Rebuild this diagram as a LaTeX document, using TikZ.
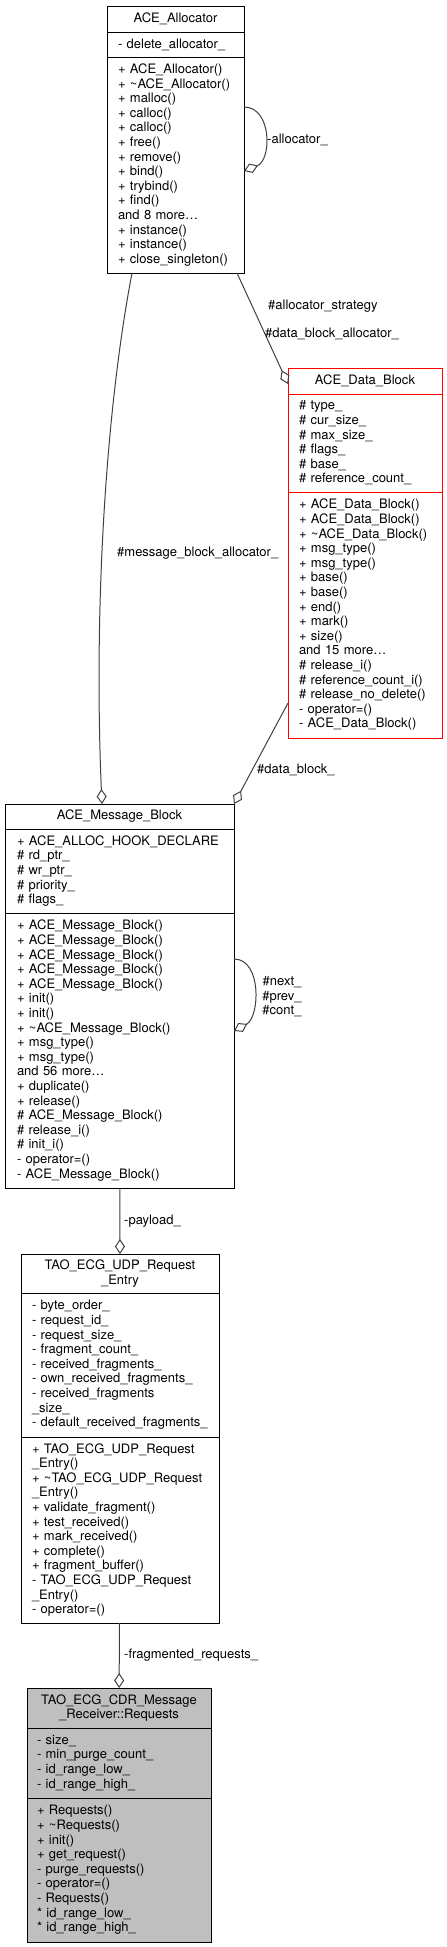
\documentclass[tikz,border=0pt]{standalone}
\usepackage{fontspec}
\setmainfont{TeX Gyre Heros}
\usetikzlibrary{arrows.meta,positioning}
\definecolor{edgegray}{HTML}{404040}
\definecolor{boxgray}{HTML}{BFBFBF}
\newcommand{\dxfont}{\fontsize{13}{14.6}\selectfont\hyphenpenalty=10000\exhyphenpenalty=10000}

\begin{document}
\begin{tikzpicture}[x=1pt,y=-1pt,
        clshead/.style={draw,line width=1pt,outer sep=0pt,inner sep=2pt,align=center,font=\dxfont},
        clsbody/.style={draw,line width=1pt,outer sep=0pt,inner ysep=2pt,align=left,font=\dxfont},
        assoc/.style={draw=edgegray,line width=1pt,-{Diamond[open,length=15pt,width=10pt]}},
        lbl/.style={font=\dxfont,inner sep=0pt,anchor=west}]
    \useasboundingbox (0,0) rectangle (447,1947);

    \node[clshead,minimum width=137pt,minimum height=26pt] (alloc) at (175.5,19) {ACE\_Allocator};
    \node[clsbody,text width=115pt,inner xsep=11pt,minimum height=25pt,below=0pt of alloc] (alloc-a)
        {-~delete\_allocator\_};
    \node[clsbody,text width=115pt,inner xsep=11pt,minimum height=216pt,below=0pt of alloc-a] (alloc-m)
        {+~ACE\_Allocator()\\
         +~\textasciitilde{}ACE\_Allocator()\\
         +~malloc()\\
         +~calloc()\\
         +~calloc()\\
         +~free()\\
         +~remove()\\
         +~bind()\\
         +~trybind()\\
         +~find()\\
         and~8~more\ldots\\
         +~instance()\\
         +~instance()\\
         +~close\_singleton()};

    \node[clshead,draw=red,minimum width=154pt,minimum height=26pt] (data) at (365,381) {ACE\_Data\_Block};
    \node[clsbody,draw=red,text width=132pt,inner xsep=11pt,minimum height=98pt,below=0pt of data] (data-a)
        {\#~type\_\\
         \#~cur\_size\_\\
         \#~max\_size\_\\
         \#~flags\_\\
         \#~base\_\\
         \#~reference\_count\_};
    \node[clsbody,draw=red,text width=132pt,inner xsep=11pt,minimum height=246pt,below=0pt of data-a] (data-m)
        {+~ACE\_Data\_Block()\\
         +~ACE\_Data\_Block()\\
         +~\textasciitilde{}ACE\_Data\_Block()\\
         +~msg\_type()\\
         +~msg\_type()\\
         +~base()\\
         +~base()\\
         +~end()\\
         +~mark()\\
         +~size()\\
         and~15~more\ldots\\
         \#~release\_i()\\
         \#~reference\_count\_i()\\
         \#~release\_no\_delete()\\
         -~operator=()\\
         -~ACE\_Data\_Block()};

    \node[clshead,minimum width=229pt,minimum height=25pt] (msg) at (119.5,816.5) {ACE\_Message\_Block};
    \node[clsbody,text width=205pt,inner xsep=12pt,minimum height=84pt,below=0pt of msg] (msg-a)
        {+~ACE\_ALLOC\_HOOK\_DECLARE\\
         \#~rd\_ptr\_\\
         \#~wr\_ptr\_\\
         \#~priority\_\\
         \#~flags\_};
    \node[clsbody,text width=205pt,inner xsep=12pt,minimum height=275pt,below=0pt of msg-a] (msg-m)
        {+~ACE\_Message\_Block()\\
         +~ACE\_Message\_Block()\\
         +~ACE\_Message\_Block()\\
         +~ACE\_Message\_Block()\\
         +~ACE\_Message\_Block()\\
         +~init()\\
         +~init()\\
         +~\textasciitilde{}ACE\_Message\_Block()\\
         +~msg\_type()\\
         +~msg\_type()\\
         and~56~more\ldots\\
         +~duplicate()\\
         +~release()\\
         \#~ACE\_Message\_Block()\\
         \#~release\_i()\\
         \#~init\_i()\\
         -~operator=()\\
         -~ACE\_Message\_Block()};

    \node[clshead,minimum width=198pt,minimum height=39pt] (entry) at (120,1273.5)
        {TAO\_ECG\_UDP\_Request\\\_Entry};
    \node[clsbody,text width=176pt,inner xsep=11pt,minimum height=144pt,below=0pt of entry] (entry-a)
        {-~byte\_order\_\\
         -~request\_id\_\\
         -~request\_size\_\\
         -~fragment\_count\_\\
         -~received\_fragments\_\\
         -~own\_received\_fragments\_\\
         -~received\_fragments\\
         \_size\_\\
         -~default\_received\_fragments\_};
    \node[clsbody,text width=176pt,inner xsep=11pt,minimum height=186pt,below=0pt of entry-a] (entry-m)
        {+~TAO\_ECG\_UDP\_Request\\
         \_Entry()\\
         +~\textasciitilde{}TAO\_ECG\_UDP\_Request\\
         \_Entry()\\
         +~validate\_fragment()\\
         +~test\_received()\\
         +~mark\_received()\\
         +~complete()\\
         +~fragment\_buffer()\\
         -~TAO\_ECG\_UDP\_Request\\
         \_Entry()\\
         -~operator=()};

    \node[clshead,fill=boxgray,minimum width=184pt,minimum height=40pt] (req) at (119,1708)
        {TAO\_ECG\_CDR\_Message\\\_Receiver::Requests};
    \node[clsbody,fill=boxgray,text width=164pt,inner xsep=10pt,minimum height=70pt,below=0pt of req] (req-a)
        {-~size\_\\
         -~min\_purge\_count\_\\
         -~id\_range\_low\_\\
         -~id\_range\_high\_};
    \node[clsbody,fill=boxgray,text width=164pt,inner xsep=10pt,minimum height=144pt,below=0pt of req-a] (req-m)
        {+~Requests()\\
         +~\textasciitilde{}Requests()\\
         +~init()\\
         +~get\_request()\\
         -~purge\_requests()\\
         -~operator=()\\
         -~Requests()\\
         {*}~id\_range\_low\_\\
         {*}~id\_range\_high\_};

    \draw[assoc] ([yshift=58pt]alloc-m.east) .. controls +(28,0) and +(28,-11) .. ([yshift=-6pt]alloc-m.east);
    \draw[assoc] ([xshift=-43.5pt]alloc-m.south) .. controls +(-28,147) and +(-8,-183) .. ([xshift=-17.5pt]msg.north);
    \draw[assoc] ([xshift=61.5pt]alloc-m.south) -- ([yshift=-3pt]data.west);
    \draw[assoc] ([yshift=-88pt]data-m.west) -- (msg.north east);
    \draw[assoc] ([yshift=91.5pt]msg-m.east) .. controls +(28,0) and +(26,-14) .. ([yshift=19.5pt]msg-m.east);
    \draw[assoc] (msg-m) -- (entry);
    \draw[assoc] (entry-m) -- (req);

    \node[lbl] (l-alloc) at (267,140) {-allocator\_};
    \node[lbl] (l-strat) at (268,306) {\#allocator\_strategy};
    \node[lbl] (l-dballoc) at (265,334) {\#data\_block\_allocator\_};
    \node[lbl] (l-mballoc) at (117,553) {\#message\_block\_allocator\_};
    \node[lbl] (l-dblock) at (257,770) {\#data\_block\_};
    \node[lbl,anchor=center,align=center] (l-next) at (282,997) {\#next\_\\\#prev\_\\\#cont\_};
    \node[lbl] (l-payload) at (124,1221) {-payload\_};
    \node[lbl] (l-frag) at (124,1655) {-fragmented\_requests\_};
\end{tikzpicture}
\end{document}
